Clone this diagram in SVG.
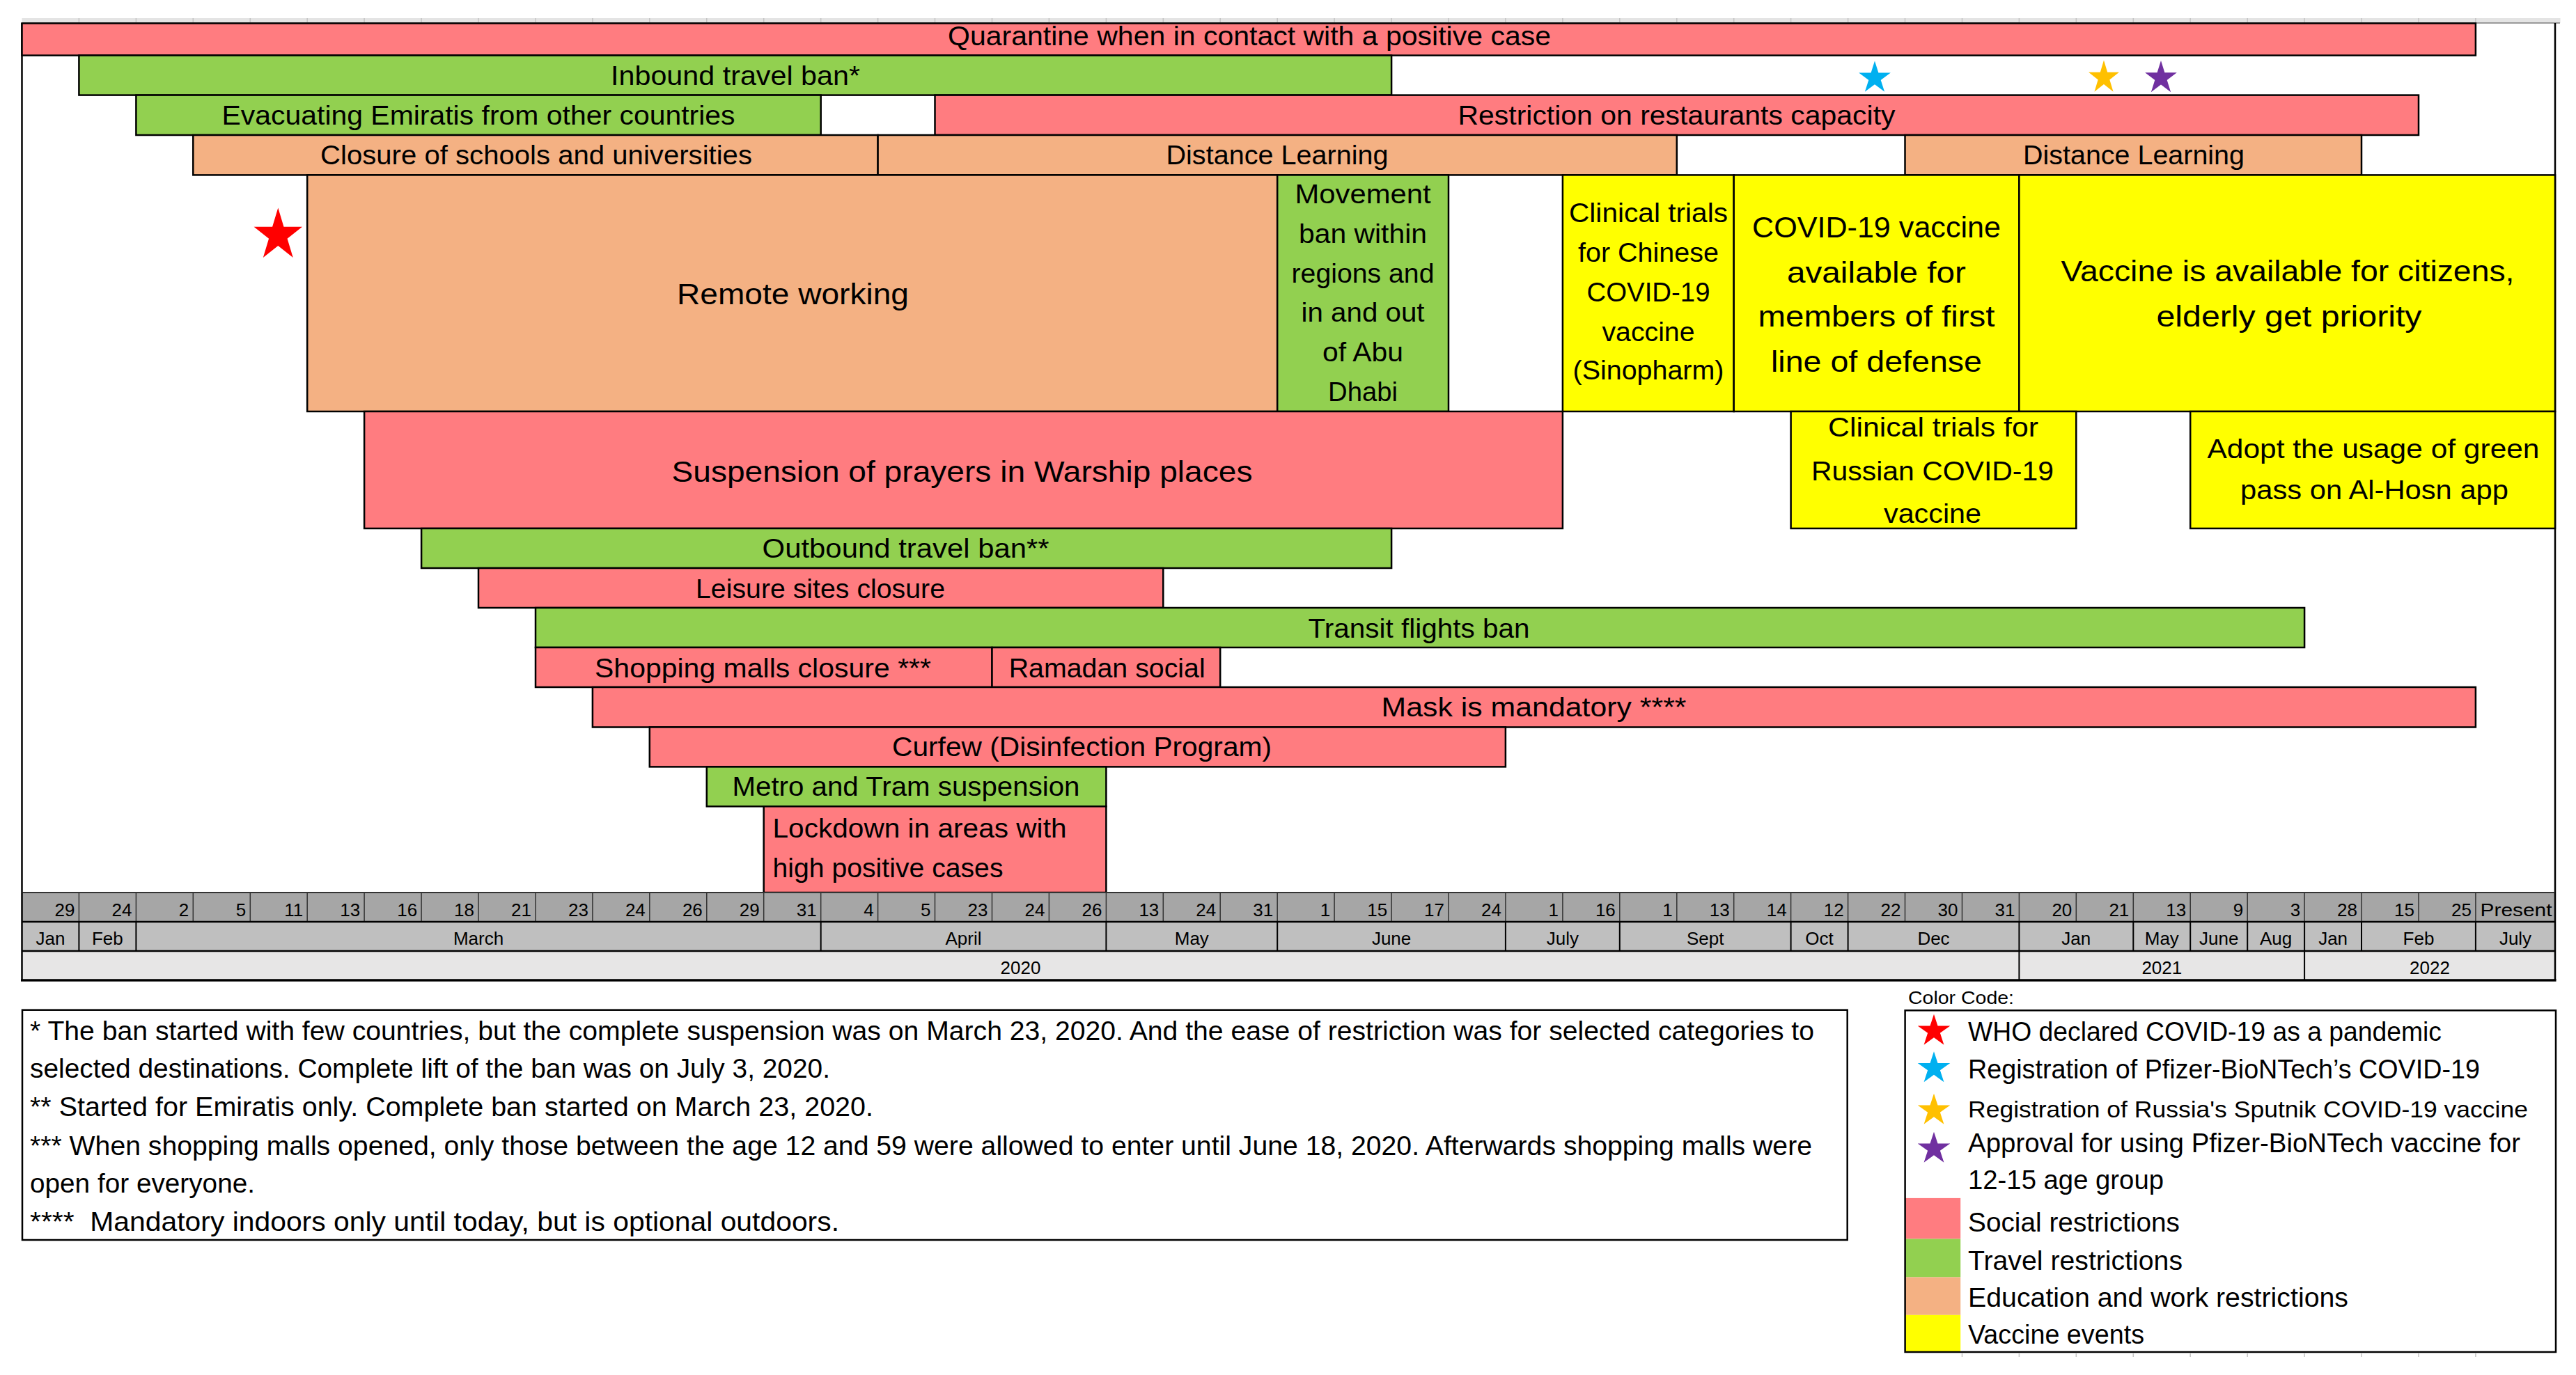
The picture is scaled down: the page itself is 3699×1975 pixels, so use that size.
<svg xmlns="http://www.w3.org/2000/svg" xmlns:xlink="http://www.w3.org/1999/xlink" width="3699" height="1975" viewBox="0 0 3699 1975">
<style>
.t{font-family:"Liberation Sans",Arial,sans-serif;font-size:38px;fill:#000}
.c{text-anchor:middle}
.e{text-anchor:end}
.big{font-size:43px}
.ax{font-size:26px}
.sm{font-size:25px}
.soc{fill:#FF7C80;stroke:#000;stroke-width:2.5}
.trv{fill:#92D050;stroke:#000;stroke-width:2.5}
.edu{fill:#F4B183;stroke:#000;stroke-width:2.5}
.vac{fill:#FFFF00;stroke:#000;stroke-width:2.5}
.grid{stroke:#333;stroke-width:1.5}
.tick{stroke:#c4c4c4;stroke-width:1.5}
</style>
<defs>
<polygon id="star" points="0,-1 0.2245,-0.309 0.9511,-0.309 0.3633,0.118 0.5878,0.809 0,0.382 -0.5878,0.809 -0.3633,0.118 -0.9511,-0.309 -0.2245,-0.309"/>
</defs>
<rect x="0" y="0" width="3699" height="1975" fill="#fff"/>

<g id="ruler">
<rect x="31.5" y="26" width="3645" height="7" fill="#e4e4e4"/>
<path class="tick" d="M113.4 26V33M195.4 26V33M277.3 26V33M359.3 26V33M441.2 26V33M523.1 26V33M605.1 26V33M687 26V33M769 26V33M850.9 26V33M932.8 26V33M1014.8 26V33M1096.7 26V33M1178.7 26V33M1260.6 26V33M1342.5 26V33M1424.5 26V33M1506.4 26V33M1588.4 26V33M1670.3 26V33M1752.2 26V33M1834.2 26V33M1916.1 26V33M1998.1 26V33M2080 26V33M2161.9 26V33M2243.9 26V33M2325.8 26V33M2407.8 26V33M2489.7 26V33M2571.6 26V33M2653.6 26V33M2735.5 26V33M2817.5 26V33M2899.4 26V33M2981.3 26V33M3063.3 26V33M3145.2 26V33M3227.2 26V33M3309.1 26V33M3391 26V33M3473 26V33M3554.9 26V33"/>
<line x1="31.5" y1="33" x2="3676" y2="33" stroke="#9a9a9a" stroke-width="2"/>
</g>

<g id="chart-frame" stroke="#000" stroke-width="2.5">
<line x1="31.5" y1="33" x2="31.5" y2="1282"/>
<line x1="3669" y1="33" x2="3669" y2="1282"/>
</g>

<g id="bars">
<g id="bar-quarantine"><rect class="soc" x="31.5" y="33.5" width="3523.4" height="46.1"/><text class="t c" x="1794" y="65" textLength="866" lengthAdjust="spacingAndGlyphs">Quarantine when in contact with a positive case</text></g>
<g id="bar-inbound"><rect class="trv" x="113.4" y="79.6" width="1884.7" height="57"/><text class="t c" x="1056" y="122" textLength="358" lengthAdjust="spacingAndGlyphs">Inbound travel ban*</text></g>
<g id="bar-evacuating"><rect class="trv" x="195.4" y="136.6" width="983.3" height="57.4"/><text class="t c" x="687" y="179" textLength="737" lengthAdjust="spacingAndGlyphs">Evacuating Emiratis from other countries</text></g>
<g id="bar-restaurants"><rect class="soc" x="1342.5" y="136.6" width="2130.5" height="57.4"/><text class="t c" x="2407.5" y="179" textLength="628" lengthAdjust="spacingAndGlyphs">Restriction on restaurants capacity</text></g>
<g id="bar-closure-schools"><rect class="edu" x="277.3" y="194" width="983.3" height="57.4"/><text class="t c" x="770" y="236" textLength="620" lengthAdjust="spacingAndGlyphs">Closure of schools and universities</text></g>
<g id="bar-distance-1"><rect class="edu" x="1260.6" y="194" width="1147.2" height="57.4"/><text class="t c" x="1834" y="236" textLength="319" lengthAdjust="spacingAndGlyphs">Distance Learning</text></g>
<g id="bar-distance-2"><rect class="edu" x="2735.5" y="194" width="655.5" height="57.4"/><text class="t c" x="3064" y="236" textLength="318" lengthAdjust="spacingAndGlyphs">Distance Learning</text></g>
<g id="bar-remote"><rect class="edu" x="441.2" y="251.4" width="1393" height="339.6"/><text class="t c big" x="1138.5" y="437" textLength="333" lengthAdjust="spacingAndGlyphs">Remote working</text></g>
<g id="bar-movement"><rect class="trv" x="1834.2" y="251.4" width="245.8" height="339.6"/>
<text class="t c" x="1957" y="291.6" textLength="195" lengthAdjust="spacingAndGlyphs">Movement</text>
<text class="t c" x="1957" y="349" textLength="184" lengthAdjust="spacingAndGlyphs">ban within</text>
<text class="t c" x="1957" y="405.7" textLength="205" lengthAdjust="spacingAndGlyphs">regions and</text>
<text class="t c" x="1957" y="462.3" textLength="177" lengthAdjust="spacingAndGlyphs">in and out</text>
<text class="t c" x="1957" y="519.3" textLength="116" lengthAdjust="spacingAndGlyphs">of Abu</text>
<text class="t c" x="1957" y="576" textLength="100" lengthAdjust="spacingAndGlyphs">Dhabi</text></g>
<g id="bar-chinese-trials"><rect class="vac" x="2243.9" y="251.4" width="245.8" height="339.6"/>
<text class="t c" x="2367" y="318.8" textLength="228" lengthAdjust="spacingAndGlyphs">Clinical trials</text>
<text class="t c" x="2367" y="376" textLength="202" lengthAdjust="spacingAndGlyphs">for Chinese</text>
<text class="t c" x="2367" y="432.5" textLength="177" lengthAdjust="spacingAndGlyphs">COVID-19</text>
<text class="t c" x="2367" y="489.9" textLength="133" lengthAdjust="spacingAndGlyphs">vaccine</text>
<text class="t c" x="2367" y="545.4" textLength="217" lengthAdjust="spacingAndGlyphs">(Sinopharm)</text></g>
<g id="bar-first-line"><rect class="vac" x="2489.7" y="251.4" width="409.7" height="339.6"/>
<text class="t c big" x="2694.5" y="340.6" textLength="357" lengthAdjust="spacingAndGlyphs">COVID-19 vaccine</text>
<text class="t c big" x="2694.5" y="405.7" textLength="257" lengthAdjust="spacingAndGlyphs">available for</text>
<text class="t c big" x="2694.5" y="468.8" textLength="340" lengthAdjust="spacingAndGlyphs">members of first</text>
<text class="t c big" x="2694.5" y="533.9" textLength="303" lengthAdjust="spacingAndGlyphs">line of defense</text></g>
<g id="bar-citizens"><rect class="vac" x="2899.4" y="251.4" width="769.6" height="339.6"/>
<text class="t c big" x="3285" y="403.7" textLength="651" lengthAdjust="spacingAndGlyphs">Vaccine is available for citizens,</text>
<text class="t c big" x="3287" y="468.8" textLength="381" lengthAdjust="spacingAndGlyphs">elderly get priority</text></g>
<g id="bar-prayers"><rect class="soc" x="523.1" y="591" width="1720.8" height="168"/><text class="t c big" x="1381.5" y="692" textLength="834" lengthAdjust="spacingAndGlyphs">Suspension of prayers in Warship places</text></g>
<g id="bar-russian-trials"><rect class="vac" x="2571.6" y="591" width="409.7" height="168"/>
<text class="t c" x="2776" y="626.5" textLength="302" lengthAdjust="spacingAndGlyphs">Clinical trials for</text>
<text class="t c" x="2775" y="689.6" textLength="348" lengthAdjust="spacingAndGlyphs">Russian COVID-19</text>
<text class="t c" x="2775" y="751" textLength="140" lengthAdjust="spacingAndGlyphs">vaccine</text></g>
<g id="bar-green-pass"><rect class="vac" x="3145.2" y="591" width="523.8" height="168"/>
<text class="t c" x="3408" y="657.6" textLength="477" lengthAdjust="spacingAndGlyphs">Adopt the usage of green</text>
<text class="t c" x="3409.5" y="717.4" textLength="385" lengthAdjust="spacingAndGlyphs">pass on Al-Hosn app</text></g>
<g id="bar-outbound"><rect class="trv" x="605.1" y="759" width="1393" height="57"/><text class="t c" x="1300.6" y="801" textLength="412" lengthAdjust="spacingAndGlyphs">Outbound travel ban**</text></g>
<g id="bar-leisure"><rect class="soc" x="687" y="816" width="983.3" height="57"/><text class="t c" x="1178" y="858.5" textLength="358" lengthAdjust="spacingAndGlyphs">Leisure sites closure</text></g>
<g id="bar-transit"><rect class="trv" x="769" y="873" width="2540.1" height="57"/><text class="t c" x="2037.5" y="916" textLength="318" lengthAdjust="spacingAndGlyphs">Transit flights ban</text></g>
<g id="bar-malls"><rect class="soc" x="769" y="930" width="655.5" height="57"/><text class="t c" x="1095.5" y="973" textLength="483" lengthAdjust="spacingAndGlyphs">Shopping malls closure ***</text></g>
<g id="bar-ramadan"><rect class="soc" x="1424.5" y="930" width="327.7" height="57"/><text class="t c" x="1589.7" y="973" textLength="282" lengthAdjust="spacingAndGlyphs">Ramadan social</text></g>
<g id="bar-mask"><rect class="soc" x="850.9" y="987" width="2704" height="57.5"/><text class="t c" x="2202.5" y="1029" textLength="438" lengthAdjust="spacingAndGlyphs">Mask is mandatory ****</text></g>
<g id="bar-curfew"><rect class="soc" x="932.8" y="1044.5" width="1229.1" height="56.9"/><text class="t c" x="1553.5" y="1086" textLength="545" lengthAdjust="spacingAndGlyphs">Curfew (Disinfection Program)</text></g>
<g id="bar-metro"><rect class="trv" x="1014.8" y="1101.4" width="573.6" height="56.9"/><text class="t c" x="1301" y="1143" textLength="499" lengthAdjust="spacingAndGlyphs">Metro and Tram suspension</text></g>
<g id="bar-lockdown"><rect class="soc" x="1096.7" y="1158.3" width="491.7" height="123.7"/>
<text class="t" x="1109.5" y="1203" textLength="422" lengthAdjust="spacingAndGlyphs">Lockdown in areas with</text>
<text class="t" x="1109.5" y="1260" textLength="331" lengthAdjust="spacingAndGlyphs">high positive cases</text></g>
</g>

<g id="stars">
<use xlink:href="#star" href="#star" fill="#FF0000" transform="translate(399.3,338) scale(36.5,39.5)"/>
<use xlink:href="#star" href="#star" fill="#00B0F0" transform="translate(2692,112) scale(24,24.5)"/>
<use xlink:href="#star" href="#star" fill="#FFC000" transform="translate(3021,111.5) scale(23,25)"/>
<use xlink:href="#star" href="#star" fill="#7030A0" transform="translate(3103,112) scale(24,25)"/>
</g>

<g id="axis">
<rect x="31.5" y="1282" width="3637.5" height="42" fill="#A6A6A6"/>
<rect x="31.5" y="1324" width="3637.5" height="42" fill="#BFBFBF"/>
<rect x="31.5" y="1366" width="3637.5" height="42" fill="#E7E6E6"/>
<path class="grid" d="M113.4 1282V1324M195.4 1282V1324M277.3 1282V1324M359.3 1282V1324M441.2 1282V1324M523.1 1282V1324M605.1 1282V1324M687 1282V1324M769 1282V1324M850.9 1282V1324M932.8 1282V1324M1014.8 1282V1324M1096.7 1282V1324M1178.7 1282V1324M1260.6 1282V1324M1342.5 1282V1324M1424.5 1282V1324M1506.4 1282V1324M1588.4 1282V1324M1670.3 1282V1324M1752.2 1282V1324M1834.2 1282V1324M1916.1 1282V1324M1998.1 1282V1324M2080 1282V1324M2161.9 1282V1324M2243.9 1282V1324M2325.8 1282V1324M2407.8 1282V1324M2489.7 1282V1324M2571.6 1282V1324M2653.6 1282V1324M2735.5 1282V1324M2817.5 1282V1324M2899.4 1282V1324M2981.3 1282V1324M3063.3 1282V1324M3145.2 1282V1324M3227.2 1282V1324M3309.1 1282V1324M3391 1282V1324M3473 1282V1324M3554.9 1282V1324"/>
<path stroke="#000" stroke-width="2" d="M113.4 1324V1366M195.4 1324V1366M1178.7 1324V1366M1588.4 1324V1366M1834.2 1324V1366M2161.9 1324V1366M2325.8 1324V1366M2571.6 1324V1366M2653.6 1324V1366M2899.4 1324V1366M3063.3 1324V1366M3145.2 1324V1366M3227.2 1324V1366M3309.1 1324V1366M3391 1324V1366M3554.9 1324V1366M2899.4 1366V1408M3309.1 1366V1408"/>
<line x1="31.5" y1="1282" x2="3669" y2="1282" stroke="#333" stroke-width="2"/>
<line x1="31.5" y1="1324" x2="3669" y2="1324" stroke="#000" stroke-width="2.5"/>
<line x1="31.5" y1="1366" x2="3669" y2="1366" stroke="#000" stroke-width="2.5"/>
<line x1="30" y1="1408" x2="3670.5" y2="1408" stroke="#000" stroke-width="3.5"/>
<line x1="31.5" y1="1282" x2="31.5" y2="1408" stroke="#000" stroke-width="2.5"/>
<line x1="3669" y1="1282" x2="3669" y2="1408" stroke="#000" stroke-width="2.5"/>
<g class="t ax e">
<text x="107.4" y="1316">29</text><text x="189.4" y="1316">24</text><text x="271.3" y="1316">2</text><text x="353.3" y="1316">5</text><text x="435.2" y="1316">11</text><text x="517.1" y="1316">13</text><text x="599.1" y="1316">16</text><text x="681" y="1316">18</text><text x="763" y="1316">21</text><text x="844.9" y="1316">23</text><text x="926.8" y="1316">24</text><text x="1008.8" y="1316">26</text><text x="1090.7" y="1316">29</text><text x="1172.7" y="1316">31</text><text x="1254.6" y="1316">4</text><text x="1336.5" y="1316">5</text><text x="1418.5" y="1316">23</text><text x="1500.4" y="1316">24</text><text x="1582.4" y="1316">26</text><text x="1664.3" y="1316">13</text><text x="1746.2" y="1316">24</text><text x="1828.2" y="1316">31</text><text x="1910.1" y="1316">1</text><text x="1992.1" y="1316">15</text><text x="2074" y="1316">17</text><text x="2155.9" y="1316">24</text><text x="2237.9" y="1316">1</text><text x="2319.8" y="1316">16</text><text x="2401.8" y="1316">1</text><text x="2483.7" y="1316">13</text><text x="2565.6" y="1316">14</text><text x="2647.6" y="1316">12</text><text x="2729.5" y="1316">22</text><text x="2811.5" y="1316">30</text><text x="2893.4" y="1316">31</text><text x="2975.3" y="1316">20</text><text x="3057.3" y="1316">21</text><text x="3139.2" y="1316">13</text><text x="3221.2" y="1316">9</text><text x="3303.1" y="1316">3</text><text x="3385" y="1316">28</text><text x="3467" y="1316">15</text><text x="3548.9" y="1316">25</text><text x="3664.5" y="1316" textLength="103" lengthAdjust="spacingAndGlyphs">Present</text>
</g>
<g class="t ax c">
<text x="72.5" y="1357">Jan</text><text x="154.4" y="1357">Feb</text><text x="687" y="1357">March</text><text x="1383.5" y="1357">April</text><text x="1711.3" y="1357">May</text><text x="1998.1" y="1357">June</text><text x="2243.9" y="1357">July</text><text x="2448.7" y="1357">Sept</text><text x="2612.6" y="1357">Oct</text><text x="2776.5" y="1357">Dec</text><text x="2981.3" y="1357">Jan</text><text x="3104.3" y="1357">May</text><text x="3186.2" y="1357">June</text><text x="3268.1" y="1357">Aug</text><text x="3350.1" y="1357">Jan</text><text x="3473" y="1357">Feb</text><text x="3612" y="1357">July</text>
<text x="1465.5" y="1399">2020</text><text x="3104.3" y="1399">2021</text><text x="3489" y="1399">2022</text>
</g>
</g>

<g id="footnotes">
<rect x="32" y="1450.7" width="2620.7" height="330.3" fill="#fff" stroke="#000" stroke-width="2.5"/>
<text class="t" x="43" y="1494" textLength="2562" lengthAdjust="spacingAndGlyphs">* The ban started with few countries, but the complete suspension was on March 23, 2020. And the ease of restriction was for selected categories to</text>
<text class="t" x="43" y="1548" textLength="1149" lengthAdjust="spacingAndGlyphs">selected destinations. Complete lift of the ban was on July 3, 2020.</text>
<text class="t" x="43" y="1603" textLength="1211" lengthAdjust="spacingAndGlyphs">** Started for Emiratis only. Complete ban started on March 23, 2020.</text>
<text class="t" x="43" y="1659" textLength="2559" lengthAdjust="spacingAndGlyphs">*** When shopping malls opened, only those between the age 12 and 59 were allowed to enter until June 18, 2020. Afterwards shopping malls were</text>
<text class="t" x="43" y="1713" textLength="323" lengthAdjust="spacingAndGlyphs">open for everyone.</text>
<text class="t" x="43" y="1768" textLength="1162" lengthAdjust="spacingAndGlyphs" xml:space="preserve">****  Mandatory indoors only until today, but is optional outdoors.</text>
</g>

<g id="legend">
<text class="t sm" x="2740" y="1442" textLength="152" lengthAdjust="spacingAndGlyphs">Color Code:</text>
<rect x="2735.6" y="1451.3" width="934.4" height="490.7" fill="#fff"/>
<rect x="2735.6" y="1720.9" width="79.6" height="58.6" fill="#FF7C80"/>
<rect x="2735.6" y="1779.5" width="79.6" height="55" fill="#92D050"/>
<rect x="2735.6" y="1834.5" width="79.6" height="54.3" fill="#F4B183"/>
<rect x="2735.6" y="1888.8" width="79.6" height="53.2" fill="#FFFF00"/>
<rect x="2735.6" y="1451.3" width="934.4" height="490.7" fill="none" stroke="#000" stroke-width="2.5"/>
<use xlink:href="#star" href="#star" fill="#FF0000" transform="translate(2777,1481) scale(24.5,24.3)"/>
<use xlink:href="#star" href="#star" fill="#00B0F0" transform="translate(2777,1534.5) scale(24.5,24.3)"/>
<use xlink:href="#star" href="#star" fill="#FFC000" transform="translate(2777,1595) scale(24.5,24.3)"/>
<use xlink:href="#star" href="#star" fill="#7030A0" transform="translate(2777,1650) scale(24.5,24.3)"/>
<text class="t" x="2826" y="1494.6" textLength="680" lengthAdjust="spacingAndGlyphs">WHO declared COVID-19 as a pandemic</text>
<text class="t" x="2826" y="1548.5" textLength="735" lengthAdjust="spacingAndGlyphs">Registration of Pfizer-BioNTech’s COVID-19</text>
<text class="t" x="2826" y="1605.4" textLength="804" lengthAdjust="spacingAndGlyphs" style="font-size:34px">Registration of Russia's Sputnik COVID-19 vaccine</text>
<text class="t" x="2826" y="1654.9" textLength="793" lengthAdjust="spacingAndGlyphs">Approval for using Pfizer-BioNTech vaccine for</text>
<text class="t" x="2826" y="1708" textLength="281" lengthAdjust="spacingAndGlyphs">12-15 age group</text>
<text class="t" x="2826" y="1768.5" textLength="304" lengthAdjust="spacingAndGlyphs">Social restrictions</text>
<text class="t" x="2826" y="1823.5" textLength="308" lengthAdjust="spacingAndGlyphs">Travel restrictions</text>
<text class="t" x="2826" y="1877.4" textLength="546" lengthAdjust="spacingAndGlyphs">Education and work restrictions</text>
<text class="t" x="2826" y="1930" textLength="253" lengthAdjust="spacingAndGlyphs">Vaccine events</text>
<path class="tick" d="M2817.5 1943V1949M2899.4 1943V1949M2981.3 1943V1949M3063.3 1943V1949M3145.2 1943V1949M3227.2 1943V1949M3309.1 1943V1949M3391 1943V1949M3473 1943V1949M3554.9 1943V1949"/>
</g>

<g id="connectors"/>
</svg>
